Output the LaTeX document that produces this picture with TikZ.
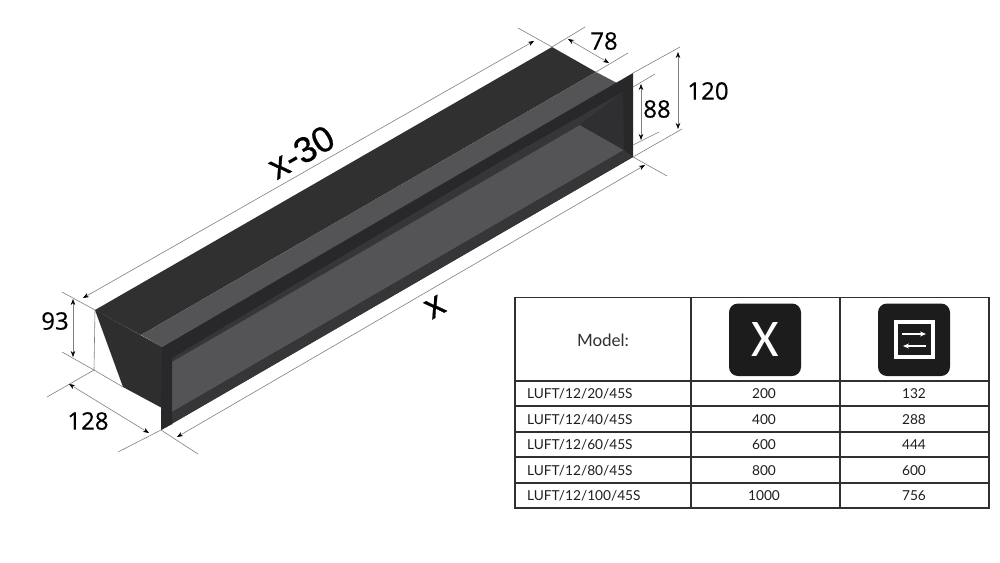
\documentclass[tikz,border=0pt]{standalone}
\usepackage{fontspec}
\setmainfont{Lato}
\newfontfamily\dimfont[FakeBold=0.35]{Open Sans}
\newfontfamily\iconfont{Carlito}
\newfontfamily\arialfont[FakeBold=0.6]{Liberation Sans}
\usetikzlibrary{arrows.meta}
\definecolor{topdark}{HTML}{303030}
\definecolor{lightface}{HTML}{545456}
\definecolor{frameblack}{HTML}{28282B}
\definecolor{stripc}{HTML}{363638}
\definecolor{sidec}{HTML}{2E2E2E}
\definecolor{wallc}{HTML}{2F2F31}
\definecolor{dimgray}{HTML}{808080}
\definecolor{iconblack}{HTML}{1C1C1C}
\definecolor{ruleC}{HTML}{303030}
\definecolor{cellC}{HTML}{1E1E1E}
\tikzset{
  extline/.style={draw=dimgray,line width=0.6pt},
  dimline/.style={draw=dimgray,line width=0.6pt,{Stealth[length=6pt,width=4.5pt,black]}-{Stealth[length=6pt,width=4.5pt,black]}},
  dimlabel/.style={font=\dimfont\fontsize{24}{26}\selectfont,text=black,inner sep=0pt},
  slantlabel/.style={font=\arialfont\fontsize{36}{38}\selectfont,text=black,inner sep=0pt,rotate=30},
  modelcell/.style={font=\fontsize{13.7}{15}\selectfont,text=cellC,anchor=west,inner sep=0pt},
  valcell/.style={font=\fontsize{13.7}{15}\selectfont,text=cellC,inner sep=0pt},
  tablerule/.style={draw=ruleC,line width=1.2pt},
  iconbox/.style={fill=iconblack,draw=none,rounded corners=9pt},
}
\begin{document}
\begin{tikzpicture}[x=1pt,y=-1pt]
\useasboundingbox (0,0) rectangle (1000,562);
\fill[white] (0,0) rectangle (1000,562);
% box points
\coordinate (backL) at (95,310);
\coordinate (backR) at (552,47);
\coordinate (midR) at (596,72);
\coordinate (midL) at (141,335);
\coordinate (foldR) at (617,83);
\coordinate (frTL) at (162,347);
\coordinate (frTR) at (633,73);
\coordinate (frBR) at (633,157);
\coordinate (frBL) at (161,430);
\coordinate (sideB) at (123,387);
\coordinate (sideC) at (162,408);
\coordinate (inTL) at (172,358);
\coordinate (inTR) at (623,92);
\coordinate (inBR) at (624,150);
\coordinate (inBL) at (172,412);
\coordinate (stripL) at (172,362);
\coordinate (stripR) at (580,125);
% faces
\fill[topdark] (backL) -- (backR) -- (midR) -- (midL) -- cycle;
\fill[lightface] (midL) -- (midR) -- (foldR) -- (frTL) -- cycle;
\fill[sidec] (backL) -- (frTL) -- (sideC) -- (sideB) -- cycle;
\fill[frameblack] (frTL) -- (frTR) -- (frBR) -- (frBL) -- cycle;
\fill[stripc] (inTL) -- (500,162) -- (inTR) -- (stripR) -- (stripL) -- cycle;
\fill[lightface] (stripL) -- (stripR) -- (inBR) -- (inBL) -- cycle;
\fill[wallc] (stripR) -- (inTR) -- (inBR) -- cycle;
\fill[stripc] (inBL) -- (inBR) -- (frBR) -- (frBL) -- (161,430) -- (172,424) -- cycle;
\fill[frameblack] (frTL) -- (inTL) -- (inBL) -- (172,424) -- (frBL) -- cycle;
% free ends of dimension lines
\coordinate (a1) at (62,292);
\coordinate (a2) at (62,352);
\coordinate (a3) at (94,370);
\coordinate (a4) at (47,397);
\coordinate (a5) at (118,452);
\coordinate (a6) at (198,454);
\coordinate (a7) at (667,176);
\coordinate (a8) at (682,129);
\coordinate (a9) at (680,47);
\coordinate (a10) at (655,74);
\coordinate (a11) at (659,132);
\coordinate (a12) at (633,87);
\coordinate (a13) at (633,145);
\coordinate (a14) at (518,28);
\coordinate (a15) at (585,27);
\coordinate (a16) at (628,53);
% extension lines
\draw[extline] (a1) -- (backL) -- (a3) -- (sideB);
\draw[extline] (a2) -- (a3);
\draw[extline] (a4) -- (a3);
\draw[extline] (a5) -- (frBL) -- (a6);
\draw[extline] (frBR) -- (a7);
\draw[extline] (frBR) -- (a8);
\draw[extline] (frTR) -- (a9);
\draw[extline] (a12) -- (a10);
\draw[extline] (a13) -- (a11);
\draw[extline] (backR) -- (a14);
\draw[extline] (backR) -- (a15);
\draw[extline] (midR) -- (a16);
\draw[draw=topdark,line width=0.3pt] (backL) -- (midL);
% dimension lines
\coordinate (d1a) at (83,298);
\coordinate (d1b) at (534,41);
\coordinate (d2a) at (568,39);
\coordinate (d2b) at (609,63);
\coordinate (d3a) at (678,52);
\coordinate (d3b) at (678,129);
\coordinate (d4a) at (641,84);
\coordinate (d4b) at (641,140);
\coordinate (d5a) at (73,299);
\coordinate (d5b) at (73,357);
\coordinate (d6a) at (69,384);
\coordinate (d6b) at (149,433);
\coordinate (d7a) at (177,437);
\coordinate (d7b) at (645,165);
\draw[dimline] (d1a) -- (d1b);
\draw[dimline] (d2a) -- (d2b);
\draw[dimline] (d3a) -- (d3b);
\draw[dimline] (d4a) -- (d4b);
\draw[dimline] (d5a) -- (d5b);
\draw[dimline] (d6a) -- (d6b);
\draw[dimline] (d7a) -- (d7b);
% dimension labels
\node[dimlabel] (l78) at (604,41) {78};
\node[dimlabel] (l120) at (708,91) {120};
\node[dimlabel] (l88) at (657,109) {88};
\node[dimlabel] (l93) at (55,321) {93};
\node[dimlabel] (l128) at (88,421) {128};
\node[slantlabel] (lx30) at (301,152) {x-30};
\node[slantlabel] (lx) at (435,307) {x};
% table
\draw[tablerule] (515,297.5) rectangle (989,508);
\foreach \yy in {381,406,432,457,483}{\draw[tablerule] (515,\yy) -- (989,\yy);}
\draw[tablerule] (691,297.5) -- (691,508);
\draw[tablerule] (840,297.5) -- (840,508);
\node[font=\fontsize{17}{19}\selectfont,text=ruleC,inner sep=0pt] (tModel) at (603,340.5) {Model:};
% icons
\fill[iconbox] (729,303.5) rectangle (801,376);
\node[font=\iconfont\fontsize{53}{55}\selectfont,text=white,inner sep=0pt] (iconX) at (765,339) {X};
\fill[iconbox] (878,303.5) rectangle (950,376);
\draw[white,line width=4pt] (896,322) rectangle (933,357);
\coordinate (arA) at (902,334);
\coordinate (arB) at (926,334);
\coordinate (arC) at (926,346);
\coordinate (arD) at (903,346);
\draw[white,line width=1.2pt,-{Stealth[length=6pt,width=5pt]}] (arA) -- (arB);
\draw[white,line width=1.2pt,-{Stealth[length=6pt,width=5pt]}] (arC) -- (arD);
% rows
\node[modelcell] (m1) at (527,394) {LUFT/12/20/45S};
\node[modelcell] (m2) at (527,419.5) {LUFT/12/40/45S};
\node[modelcell] (m3) at (527,445) {LUFT/12/60/45S};
\node[modelcell] (m4) at (527,470.5) {LUFT/12/80/45S};
\node[modelcell] (m5) at (527,495.5) {LUFT/12/100/45S};
\node[valcell] (x1) at (764,394) {200};
\node[valcell] (x2) at (764,419.5) {400};
\node[valcell] (x3) at (764,445) {600};
\node[valcell] (x4) at (764,470.5) {800};
\node[valcell] (x5) at (764,495.5) {1000};
\node[valcell] (y1) at (914,394) {132};
\node[valcell] (y2) at (914,419.5) {288};
\node[valcell] (y3) at (914,445) {444};
\node[valcell] (y4) at (914,470.5) {600};
\node[valcell] (y5) at (914,495.5) {756};
\end{tikzpicture}
\end{document}
